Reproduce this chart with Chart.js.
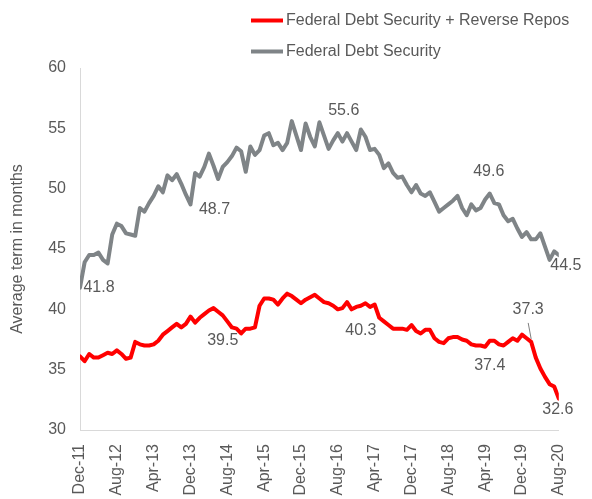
<!DOCTYPE html>
<html>
<head>
<meta charset="utf-8">
<script src="https://cdn.jsdelivr.net/npm/chart.js@4.4.1/dist/chart.umd.min.js"></script>
<style>
  html, body { margin: 0; padding: 0; background: #fff; }
  #wrap { position: relative; width: 592px; height: 499px; }
</style>
</head>
<body>
<div id="wrap"><canvas id="termChart" width="592" height="499"></canvas></div>
<script>
// Average term (months), monthly Dec-11 .. Aug-20, index 0..104
const tickLabels = ['Dec-11', 'Aug-12', 'Apr-13', 'Dec-13', 'Aug-14', 'Apr-15', 'Dec-15',
  'Aug-16', 'Apr-17', 'Dec-17', 'Aug-18', 'Apr-19', 'Dec-19', 'Aug-20'];

const seriesNames = ['Federal Debt Security + Reverse Repos', 'Federal Debt Security'];

const debtPlusRepos = [
  36.1, 35.7, 36.3, 36.0, 36.0, 36.2, 36.4, 36.3, 36.6, 36.3,
  35.9, 36.0, 37.3, 37.1, 37.0, 37.0, 37.1, 37.4, 37.9, 38.2,
  38.5, 38.8, 38.5, 38.8, 39.4, 38.9, 39.3, 39.6, 39.9, 40.1,
  39.8, 39.5, 39.0, 38.5, 38.4, 38.0, 38.4, 38.4, 38.5, 40.3,
  40.9, 40.9, 40.8, 40.4, 40.9, 41.3, 41.1, 40.8, 40.5, 40.8,
  41.0, 41.2, 40.9, 40.6, 40.5, 40.3, 40.0, 40.1, 40.6, 40.0,
  40.2, 40.3, 40.5, 40.2, 40.4, 39.3, 39.0, 38.7, 38.4, 38.4,
  38.4, 38.3, 38.7, 38.2, 38.0, 38.3, 38.3, 37.6, 37.3, 37.2,
  37.6, 37.7, 37.7, 37.5, 37.4, 37.1, 37.0, 37.0, 36.9, 37.4,
  37.4, 37.1, 37.0, 37.3, 37.6, 37.4, 37.9, 37.6, 37.3, 36.0,
  35.1, 34.4, 33.8, 33.6, 32.6
];

const debtOnly = [
  41.8, 43.9, 44.5, 44.5, 44.7, 44.1, 43.8, 46.2, 47.1, 46.9,
  46.3, 46.2, 46.1, 48.4, 48.1, 48.8, 49.4, 50.2, 49.7, 51.1,
  50.7, 51.2, 50.4, 49.5, 48.7, 51.3, 51.0, 51.8, 52.9, 51.9,
  50.8, 51.8, 52.2, 52.7, 53.4, 53.1, 51.4, 53.5, 52.8, 53.2,
  54.4, 54.6, 53.6, 53.8, 53.2, 53.8, 55.6, 54.4, 53.2, 55.4,
  54.3, 53.5, 55.5, 54.4, 53.3, 54.0, 54.6, 53.9, 54.6, 53.9,
  53.2, 54.9, 54.3, 53.2, 53.3, 52.8, 51.7, 52.1, 51.3, 50.9,
  51.0, 50.3, 49.7, 50.3, 49.6, 49.4, 49.7, 48.9, 48.1, 48.4,
  48.7, 49.0, 49.4, 48.4, 47.8, 48.7, 48.2, 48.4, 49.1, 49.6,
  48.8, 48.7, 47.8, 47.3, 47.5, 46.7, 46.0, 46.4, 45.8, 45.8,
  46.3, 45.2, 44.1, 44.8, 44.5
];

// points that carry a value label
const reposLabelIdx = [31, 61, 89, 98, 104];
const debtLabelIdx = [0, 24, 46, 89, 104];

const textGrey = '#595959';
const fontFamily = '"Liberation Sans", Arial, sans-serif';
const lineColors = ['#FF0000', '#7F8487'];

// label placement (centre of text relative to the point), per dataset
const labelOffsets = [
  [[0, 25], [0, 25], [0, 25], [-3, -32], [-1, 11]],
  [[19, 0], [24, 5], [52, -10], [-1, -22], [7, 11]]
];

const toXY = arr => arr.map((v, i) => ({ x: i, y: v }));

const valueLabels = {
  id: 'valueLabels',
  afterDatasetsDraw(chart) {
    const { ctx, scales: { x, y } } = chart;
    const sets = [[debtPlusRepos, reposLabelIdx], [debtOnly, debtLabelIdx]];
    ctx.save();
    ctx.font = '16px ' + fontFamily;
    ctx.fillStyle = textGrey;
    ctx.textAlign = 'center';
    ctx.textBaseline = 'middle';
    sets.forEach(([vals, idxs], d) => {
      idxs.forEach((i, k) => {
        const px = x.getPixelForValue(i);
        const py = y.getPixelForValue(vals[i]);
        const [dx, dy] = labelOffsets[d][k];
        ctx.fillText(vals[i].toFixed(1), px + dx, py + dy);
        if (d === 0 && i === 98) {
          // leader line
          ctx.strokeStyle = '#7f7f7f';
          ctx.lineWidth = 1;
          ctx.beginPath();
          ctx.moveTo(px - 3, py - 19);
          ctx.lineTo(px, py - 3);
          ctx.stroke();
        }
      });
    });
    ctx.restore();
  }
};

const stackedLegend = {
  id: 'stackedLegend',
  afterDraw(chart) {
    const ctx = chart.ctx;
    const rows = [20.5, 51.5];
    ctx.save();
    ctx.font = '16px ' + fontFamily;
    ctx.textBaseline = 'middle';
    ctx.textAlign = 'left';
    chart.data.datasets.forEach((ds, k) => {
      ctx.strokeStyle = ds.borderColor;
      ctx.lineWidth = 4;
      ctx.beginPath();
      ctx.moveTo(251, rows[k]);
      ctx.lineTo(283, rows[k]);
      ctx.stroke();
      ctx.fillStyle = textGrey;
      ctx.fillText(ds.label, 286, rows[k]);
    });
    ctx.restore();
  }
};

new Chart(document.getElementById('termChart'), {
  type: 'line',
  data: {
    datasets: [
      { label: seriesNames[0], data: toXY(debtPlusRepos), borderColor: lineColors[0] },
      { label: seriesNames[1], data: toXY(debtOnly), borderColor: lineColors[1] }
    ]
  },
  options: {
    responsive: false,
    animation: false,
    layout: { padding: { top: 68, right: 24, bottom: 0, left: 0 } },
    elements: {
      line: { borderWidth: 4, tension: 0, borderJoinStyle: 'round', borderCapStyle: 'round' },
      point: { radius: 0, hoverRadius: 0 }
    },
    plugins: { legend: { display: false }, tooltip: { enabled: false } },
    scales: {
      x: {
        type: 'linear',
        min: 0,
        max: 104,
        afterFit: s => { s.height = 69; },
        grid: { display: false, drawTicks: false },
        border: { display: true, color: '#d9d9d9', width: 1 },
        ticks: {
          stepSize: 8,
          autoSkip: false,
          minRotation: 90,
          maxRotation: 90,
          padding: 14,
          color: textGrey,
          font: { family: fontFamily, size: 16 },
          callback: v => tickLabels[v / 8]
        }
      },
      y: {
        min: 30,
        max: 60,
        afterFit: s => { s.width = 80; },
        grid: { display: false, drawTicks: false },
        border: { display: true, color: '#d9d9d9', width: 1 },
        ticks: {
          stepSize: 5,
          padding: 14,
          color: textGrey,
          font: { family: fontFamily, size: 16 }
        },
        title: {
          display: true,
          text: 'Average term in months',
          color: textGrey,
          padding: { top: 8, bottom: 0 },
          font: { family: fontFamily, size: 16 }
        }
      }
    }
  },
  plugins: [valueLabels, stackedLegend]
});
</script>
</body>
</html>
